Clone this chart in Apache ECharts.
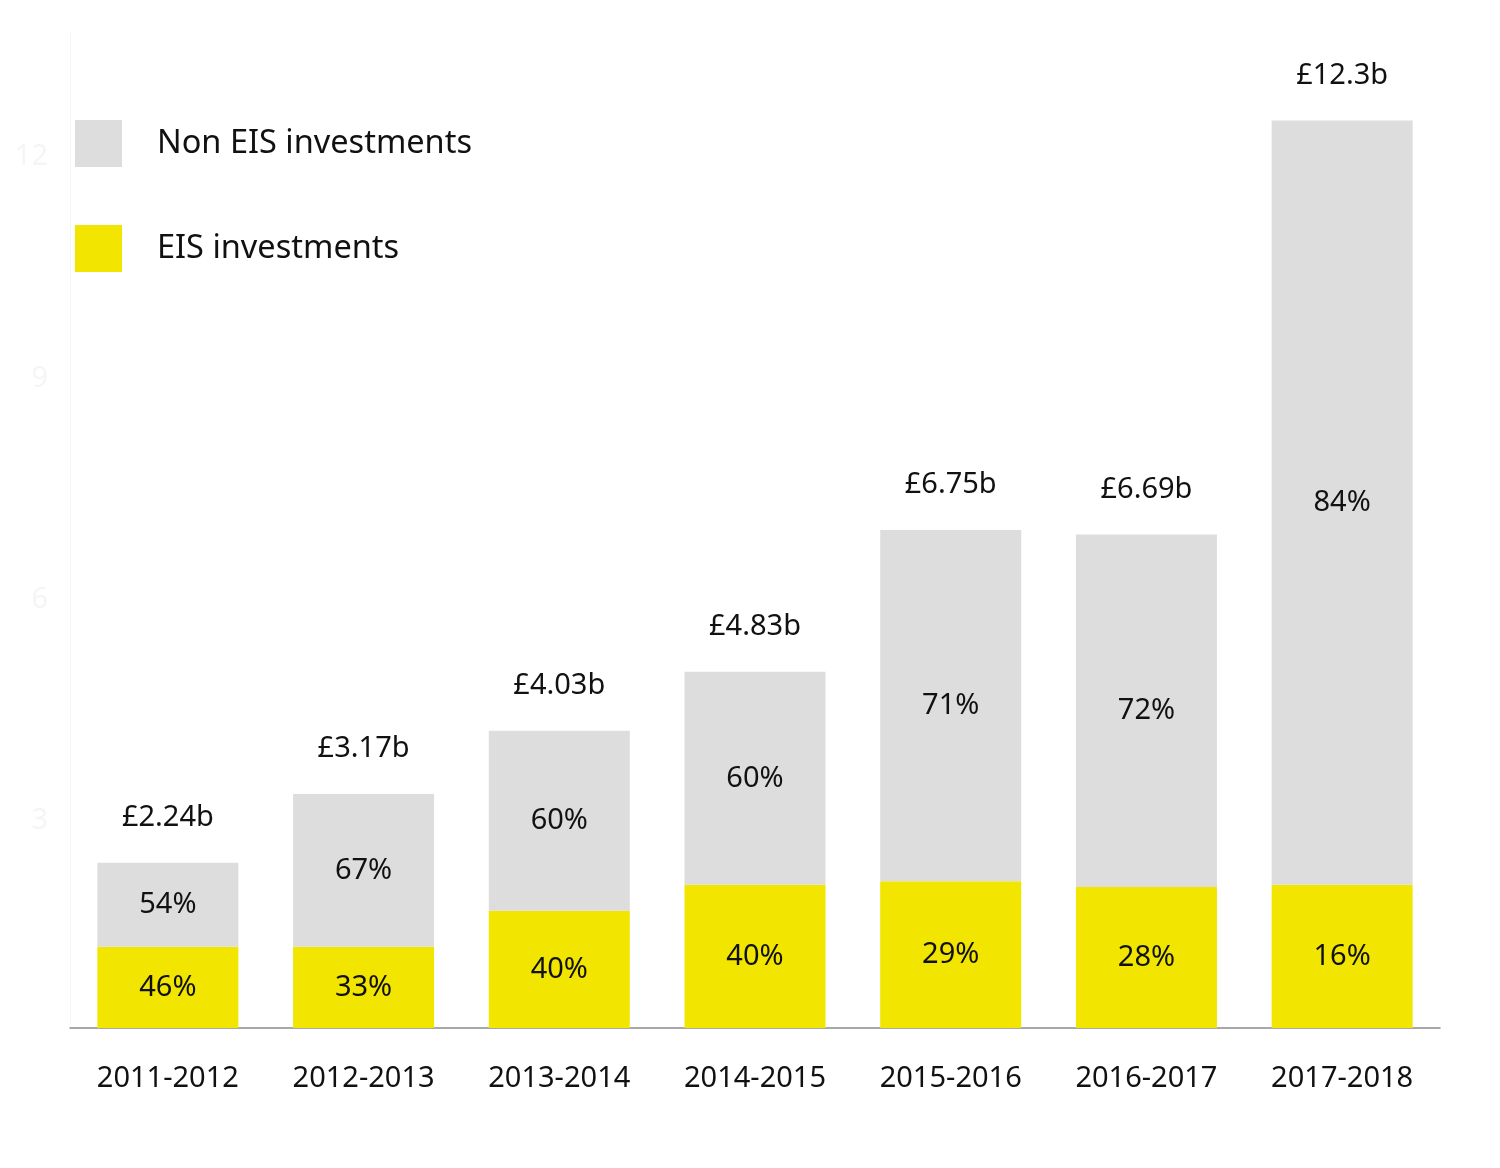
<!DOCTYPE html>
<html>
<head>
<meta charset="utf-8">
<script src="https://cdn.jsdelivr.net/npm/echarts@6/dist/echarts.min.js"></script>
<style>
html,body{margin:0;padding:0;background:#fff;}
#chart{width:1500px;height:1168px;}
</style>
</head>
<body>
<div id="chart"></div>
<script>
const categories = ['2011-2012','2012-2013','2013-2014','2014-2015','2015-2016','2016-2017','2017-2018'];
const totals = [2.24, 3.17, 4.03, 4.83, 6.75, 6.69, 12.3];
const eisValues = [1.10, 1.10, 1.59, 1.94, 1.99, 1.91, 1.94];
const eisPct = ['46%','33%','40%','40%','29%','28%','16%'];
const nonEisPct = ['54%','67%','60%','60%','71%','72%','84%'];
const totalLabels = ['£2.24b','£3.17b','£4.03b','£4.83b','£6.75b','£6.69b','£12.3b'];
const nonEisValues = totals.map((t, i) => +(t - eisValues[i]).toFixed(2));

const FONT = 'Noto Sans';
const chart = echarts.init(document.getElementById('chart'));
chart.setOption({
  backgroundColor: '#ffffff',
  animation: false,
  textStyle: { fontFamily: FONT },
  legend: {
    orient: 'vertical',
    left: 70,
    top: 115,
    itemWidth: 47,
    itemHeight: 47,
    itemGap: 58,
    icon: 'rect',
    data: ['Non EIS investments', 'EIS investments'],
    textStyle: { fontFamily: FONT, fontSize: 32.5, color: '#111', padding: [0, 0, 0, 30] }
  },
  grid: { left: 70, right: 60, top: 32, bottom: 140 },
  xAxis: {
    type: 'category',
    data: categories,
    axisLine: { show: true, lineStyle: { color: '#8c8c8c', width: 1.5 } },
    axisTick: { show: false },
    axisLabel: { fontFamily: FONT, fontSize: 29, color: '#111', margin: 36 }
  },
  yAxis: {
    type: 'value',
    min: 0,
    max: 13.5,
    interval: 3,
    axisLine: { show: true, lineStyle: { color: '#f7f7f7', width: 1 } },
    axisTick: { show: false },
    splitLine: { show: false },
    axisLabel: {
      fontFamily: FONT, fontSize: 29, color: '#f5f5f5', margin: 22,
      showMinLabel: false, showMaxLabel: false, verticalAlign: 'top'
    }
  },
  series: [
    {
      name: 'EIS investments',
      type: 'bar',
      stack: 'total',
      barWidth: 141,
      data: eisValues,
      itemStyle: { color: '#f2e600' },
      label: {
        show: true, position: 'inside', fontFamily: FONT, fontSize: 29, color: '#111',
        formatter: p => eisPct[p.dataIndex]
      }
    },
    {
      name: 'Non EIS investments',
      type: 'bar',
      stack: 'total',
      barWidth: 141,
      data: nonEisValues,
      itemStyle: { color: '#dddddd' },
      label: {
        show: true, position: 'inside', fontFamily: FONT, fontSize: 29, color: '#111',
        formatter: p => nonEisPct[p.dataIndex]
      },
      markPoint: {
        symbol: 'rect', symbolSize: 1, itemStyle: { color: 'rgba(0,0,0,0)' },
        label: {
          show: true, position: 'top', distance: 30, fontFamily: FONT, fontSize: 29, color: '#111',
          formatter: p => p.name
        },
        data: categories.map((c, i) => ({ name: totalLabels[i], coord: [c, totals[i]] }))
      }
    }
  ]
});
</script>
</body>
</html>
